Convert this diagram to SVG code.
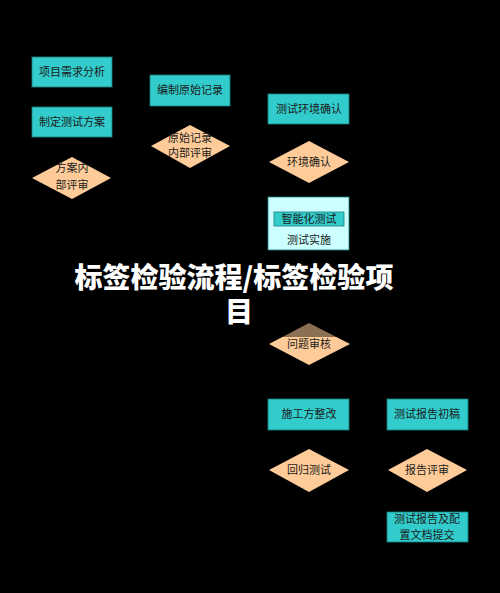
<svg xmlns="http://www.w3.org/2000/svg" width="500" height="593" viewBox="0 0 500 593">
<style>
.bg{fill:#000}
.box{fill:#33CCCC;stroke:#1a8080;stroke-width:0.8}
.dia{fill:#FFCC99;stroke:none}
.lt{fill:#CCFFFF;stroke:#1a8080;stroke-width:0.8}
.t{font-family:"Noto Sans CJK SC","Liberation Sans",sans-serif;font-size:11px;fill:#1a1a1a;text-anchor:middle}
.title{font-family:"Noto Sans CJK SC","Liberation Sans",sans-serif;font-size:28px;font-weight:900;fill:#fff;text-anchor:middle}
</style>
<rect class="bg" x="0" y="0" width="500" height="593"/>
<g id="connectors"></g>
<g id="n1"><rect class="box" x="32" y="57" width="80" height="30"/><text class="t" x="72" y="76">项目需求分析</text></g>
<g id="n2"><rect class="box" x="32" y="107" width="80" height="30"/><text class="t" x="72" y="126">制定测试方案</text></g>
<g id="n3"><polygon class="dia" points="72,157 111,178 72,199 32,178"/><text class="t" x="72" y="172">方案内</text><text class="t" x="72" y="189">部评审</text></g>
<g id="n4"><rect class="box" x="150" y="75" width="80" height="31"/><text class="t" x="190" y="94">编制原始记录</text></g>
<g id="n5"><polygon class="dia" points="190,125 230,146 190,168 151,146"/><text class="t" x="190" y="142">原始记录</text><text class="t" x="190" y="157">内部评审</text></g>
<g id="n6"><rect class="box" x="268" y="94" width="81" height="30"/><text class="t" x="309" y="113">测试环境确认</text></g>
<g id="n7"><polygon class="dia" points="309,141 349,162 309,183 269,162"/><text class="t" x="309" y="166">环境确认</text></g>
<g id="n8"><rect class="lt" x="268" y="197" width="81" height="53"/><rect class="box" x="274" y="212" width="70" height="14"/><text class="t" x="309" y="223">智能化测试</text><text class="t" x="309" y="244">测试实施</text></g>
<g id="n9"><polygon class="dia" points="309,323 350,344 309,365 269,344"/><text class="t" x="309" y="348">问题审核</text></g>
<g id="n10"><rect class="box" x="268" y="399" width="81" height="31"/><text class="t" x="309" y="418">施工方整改</text></g>
<g id="n11"><rect class="box" x="387" y="399" width="81" height="31"/><text class="t" x="427" y="418">测试报告初稿</text></g>
<g id="n12"><polygon class="dia" points="309,449 349,470 309,492 269,470"/><text class="t" x="309" y="474">回归测试</text></g>
<g id="n13"><polygon class="dia" points="427,449 467,470 427,492 388,470"/><text class="t" x="427" y="474">报告评审</text></g>
<g id="n14"><rect class="box" x="387" y="512" width="81" height="30"/><text class="t" x="427" y="523">测试报告及配</text><text class="t" x="427" y="539">置文档提交</text></g>
<rect x="0" y="252" width="500" height="85" fill="#000" fill-opacity="0.45"/>
<g id="title"><text class="title" x="234" y="288">标签检验流程/标签检验项</text><text class="title" x="239" y="322">目</text></g>
</svg>
